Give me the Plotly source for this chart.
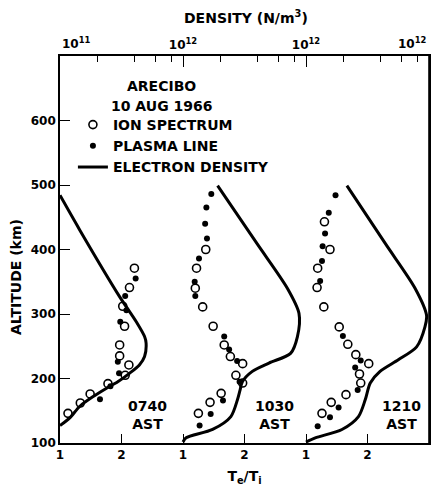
import numpy as np
import plotly.graph_objects as go

# Three Arecibo profiles, 10 Aug 1966, each in its own horizontal strip
panel_times = ["0740", "1030", "1210"]

# Electron density profiles: altitude (km) and density (N/m^3)
ne_alt_0740 = [127, 139, 157, 172, 185, 195, 208, 221, 234, 255, 265, 288, 327, 430, 484]
ne_val_0740 = [1.00e11, 1.20e11, 1.45e11, 1.86e11, 2.39e11, 2.95e11, 3.67e11, 4.42e11,
               4.87e11, 5.01e11, 4.87e11, 4.17e11, 3.05e11, 1.45e11, 1.00e11]

ne_alt_1030 = [101.5, 108, 121, 141, 167, 182, 195, 211, 224, 239, 265, 301, 340, 409, 499]
ne_val_1030 = [1.00e11, 1.06e11, 1.74e11, 2.45e11, 2.77e11, 2.91e11, 3.04e11, 3.66e11,
               5.00e11, 7.49e11, 8.52e11, 8.77e11, 7.05e11, 4.00e11, 1.91e11]

ne_alt_1210 = [101.5, 108, 121, 141, 167, 193, 211, 229, 249, 280, 298, 340, 409, 499]
ne_val_1210 = [1.00e11, 1.19e11, 1.96e11, 2.67e11, 3.03e11, 3.33e11, 4.00e11, 5.63e11,
               7.93e11, 9.27e11, 9.55e11, 7.70e11, 4.42e11, 2.15e11]

# Te/Ti from the ion spectrum (open circles)
ion_alt_0740 = [371, 341, 312, 281, 252, 235, 221, 205, 192, 176, 162, 146]
ion_te_0740 = [2.21, 2.13, 2.02, 2.05, 1.97, 1.97, 2.12, 2.06, 1.78, 1.49, 1.33, 1.13]

ion_alt_1030 = [400, 371, 340, 311, 281, 252, 234, 223, 205, 193, 177, 163, 146]
ion_te_1030 = [1.37, 1.22, 1.20, 1.32, 1.49, 1.67, 1.77, 1.97, 1.86, 1.97, 1.62, 1.44, 1.25]

ion_alt_1210 = [443, 400, 371, 341, 311, 280, 253, 237, 223, 207, 193, 175, 163, 146]
ion_te_1210 = [1.30, 1.39, 1.19, 1.18, 1.29, 1.54, 1.68, 1.81, 2.02, 1.87, 1.89, 1.65, 1.41, 1.26]

# Te/Ti from the plasma line (filled dots)
pl_alt_0740 = [355, 328, 306, 288, 226, 208, 188, 168]
pl_te_0740 = [2.23, 2.06, 2.08, 1.98, 1.94, 1.96, 1.82, 1.65]

pl_alt_1030 = [486, 465, 440, 417, 386, 350, 328, 265, 245, 227, 195, 166, 145, 127]
pl_te_1030 = [1.46, 1.38, 1.36, 1.39, 1.26, 1.19, 1.20, 1.67, 1.75, 1.88, 1.92, 1.65, 1.45, 1.27]

pl_alt_1210 = [484, 457, 425, 405, 382, 351, 266, 228, 217, 182, 155, 140, 126]
pl_te_1210 = [1.48, 1.37, 1.31, 1.27, 1.26, 1.23, 1.60, 1.89, 1.80, 1.84, 1.53, 1.39, 1.19]

# Axis tick labels
te_tick_text = ["1", "2", "1", "2", "1", "2", "3"]
density_tick_text = ["10<sup>11</sup>", "10<sup>12</sup>", "10<sup>12</sup>", "10<sup>12</sup>"]
density_minor_mult = [2, 4, 6, 8]
alt_ticks = [100, 200, 300, 400, 500, 600]

# Each strip is two units wide: Te/Ti 1..3 and one decade of density
STRIP = 2.0
N0 = 1e11


def te_x(panel, te):
    return [panel * STRIP + (v - 1.0) for v in te]


def ne_x(panel, ne):
    return [panel * STRIP + STRIP * np.log10(v / N0) for v in ne]


ne_alts = [ne_alt_0740, ne_alt_1030, ne_alt_1210]
ne_vals = [ne_val_0740, ne_val_1030, ne_val_1210]
ion_alts = [ion_alt_0740, ion_alt_1030, ion_alt_1210]
ion_tes = [ion_te_0740, ion_te_1030, ion_te_1210]
pl_alts = [pl_alt_0740, pl_alt_1030, pl_alt_1210]
pl_tes = [pl_te_0740, pl_te_1030, pl_te_1210]

FONT = "DejaVu Sans"
INK = "black"
TXT = dict(family=FONT, size=14, color=INK, weight="bold")
TICK = dict(family=FONT, size=12, color=INK, weight="bold")

fig = go.Figure()

ion_x, ion_y, pl_x, pl_y = [], [], [], []
for p in range(3):
    ion_x += te_x(p, ion_tes[p])
    ion_y += ion_alts[p]
    pl_x += te_x(p, pl_tes[p])
    pl_y += pl_alts[p]

fig.add_trace(go.Scatter(
    x=ion_x, y=ion_y, mode="markers", name="ION SPECTRUM",
    marker=dict(symbol="circle-open", size=8, color=INK, line=dict(width=1.6, color=INK)),
))
fig.add_trace(go.Scatter(
    x=pl_x, y=pl_y, mode="markers", name="PLASMA LINE",
    marker=dict(symbol="circle", size=6, color=INK),
))

for p in range(3):
    fig.add_trace(go.Scatter(
        x=ne_x(p, ne_vals[p]), y=ne_alts[p], mode="lines",
        name="ELECTRON DENSITY", showlegend=(p == 0), xaxis="x2",
        line=dict(color=INK, width=3, shape="spline", smoothing=0.8),
    ))

# Strip labels
label_x = [1.42, 3.48, 5.55]
for p, t in enumerate(panel_times):
    fig.add_annotation(x=label_x[p], y=144, xref="x", yref="y", text=f"{t}<br>AST",
                       showarrow=False, font=TXT, align="center")

fig.add_annotation(x=1.65, y=654, xref="x", yref="y", text="ARECIBO", showarrow=False, font=TXT)
fig.add_annotation(x=1.65, y=623, xref="x", yref="y", text="10 AUG 1966", showarrow=False, font=TXT)

# Axis titles
fig.add_annotation(x=-0.148, y=0.43, xref="paper", yref="paper", text="ALTITUDE (km)",
                   textangle=-90, showarrow=False, font=TXT)
fig.add_annotation(x=0.505, y=1.0, xref="paper", yref="paper", yshift=50,
                   text="DENSITY (N/m<sup>3</sup>)", showarrow=False, font=TXT)

# End labels of the density scale sit inside the frame edges
fig.add_annotation(x=0, y=1.0, xref="paper", yref="paper", xanchor="left", yanchor="bottom",
                   yshift=3, text=density_tick_text[0], showarrow=False, font=TICK)
fig.add_annotation(x=1.0, y=1.0, xref="paper", yref="paper", xanchor="right", yanchor="bottom",
                   yshift=3, text=density_tick_text[-1], showarrow=False, font=TICK)

major_top = [p * STRIP for p in range(4)]
minor_top = [p * STRIP + STRIP * np.log10(m) for p in range(3) for m in density_minor_mult]
top_text = [""] + density_tick_text[1:-1] + [""]

axis_common = dict(showline=True, linecolor=INK, linewidth=1.6, showgrid=False,
                   zeroline=False, ticks="inside", tickcolor=INK, tickwidth=1.4,
                   tickfont=TICK)

fig.update_layout(
    width=433, height=492,
    margin=dict(l=60, r=2, t=56, b=49),
    paper_bgcolor="white", plot_bgcolor="white",
    font=dict(family=FONT, color=INK),
    showlegend=True,
    legend=dict(x=0.035, y=0.863, xanchor="left", yanchor="top",
                bgcolor="rgba(0,0,0,0)", font=TXT, itemwidth=30, tracegroupgap=0),
    xaxis=dict(range=[0, 6], tickmode="array", tickvals=list(range(7)),
               ticktext=te_tick_text, ticklen=9, mirror=False,
               title=dict(text="T<sub>e</sub>/T<sub>i</sub>", font=TXT, standoff=10),
               **axis_common),
    xaxis2=dict(range=[0, 6], overlaying="x", side="top", tickmode="array",
                tickvals=major_top, ticktext=top_text, ticklen=11,
                minor=dict(tickmode="array", tickvals=minor_top, ticks="inside",
                           ticklen=6, tickcolor=INK, tickwidth=1.4),
                **axis_common),
    yaxis=dict(range=[100, 700], tickmode="array", tickvals=alt_ticks, ticklen=10,
               mirror=True, **axis_common),
)

# Right-hand frame edge
fig.add_shape(type="line", xref="paper", yref="paper", x0=1, x1=1, y0=0, y1=1,
              line=dict(color=INK, width=1.6))

fig.write_html("out.html")
